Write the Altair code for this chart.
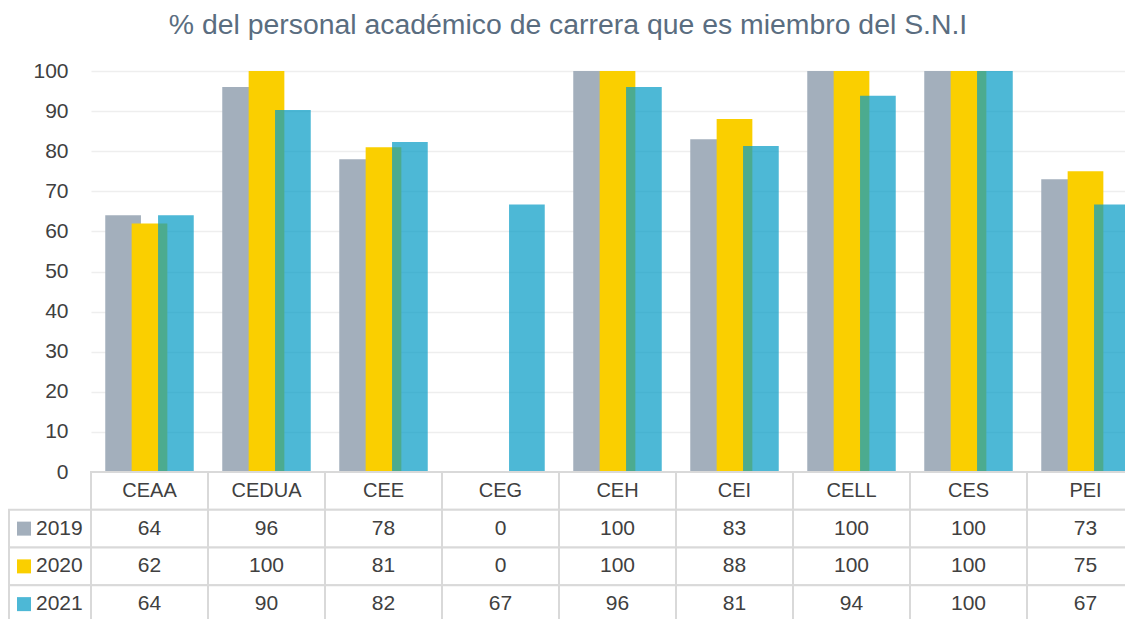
import altair as alt
import pandas as pd

categories = ["CEAA", "CEDUA", "CEE", "CEG", "CEH", "CEI", "CELL", "CES", "PEI"]
years = ["2019", "2020", "2021"]
v2019 = [64, 96, 78, 0, 100, 83, 100, 100, 73]
v2020 = [62, 100, 81, 0, 100, 88, 100, 100, 75]
v2021 = [64, 90.3, 82.3, 66.7, 96, 81.3, 93.8, 100, 66.7]
colors = ["#A3AFBC", "#FACF00", "#089CC6"]

FONT = "Liberation Sans, Arial"
TXT = "#404040"
LINE = "#D9D9D9"

PLOT_H = 401      # bar area height
ROW_H = 37.75     # table row height
X_RANGE = 1053    # 9 columns of 117 px

rows = []
for yr, vals in zip(years, [v2019, v2020, v2021]):
    for c, v in zip(categories, vals):
        rows.append({"cat": c, "year": yr, "row": yr, "value": v, "label": f"{v:.0f}"})
df = pd.DataFrame(rows)
header = pd.DataFrame({"cat": categories, "row": ["cat"] * len(categories), "label": categories})
table_df = pd.concat([header, df[["cat", "row", "label"]]], ignore_index=True)
years_df = pd.DataFrame({"row": years, "year": years})

xscale = alt.Scale(domain=categories, range=[0, X_RANGE], paddingInner=0, paddingOuter=0)
cscale = alt.Scale(domain=years, range=colors)
xenc = alt.X("cat:N", scale=xscale, axis=None, sort=categories)
opac = alt.condition("datum.year == '2021'", alt.value(0.72), alt.value(1.0))

bars = alt.Chart(df).mark_bar(width=35.7).encode(
    x=xenc,
    xOffset=alt.XOffset("year:N", scale=alt.Scale(domain=years, paddingInner=0, paddingOuter=0.716)),
    y=alt.Y("value:Q", stack=None,
            scale=alt.Scale(domain=[0, 100], nice=False, range=[PLOT_H, 0]),
            axis=alt.Axis(values=list(range(0, 101, 10)), domain=False, ticks=False,
                          labelFont=FONT, labelFontSize=21, labelColor=TXT, labelPadding=23,
                          gridColor="#EEEEEE", gridWidth=1.5, title=None)),
    color=alt.Color("year:N", scale=cscale, legend=None),
    opacity=opac,
)

yenc = alt.Y("row:N", axis=None,
             scale=alt.Scale(domain=["cat"] + years, paddingInner=0, paddingOuter=0,
                             range=[PLOT_H, PLOT_H + 4 * ROW_H]))

cell_boxes = alt.Chart(table_df).mark_rect(fill="white", stroke=LINE, strokeWidth=2).encode(
    x=xenc, y=yenc
)
head_text = alt.Chart(header).mark_text(font=FONT, fontSize=20, color=TXT, baseline="middle").encode(
    x=xenc, y=yenc, text="label:N"
)
val_text = alt.Chart(df).mark_text(font=FONT, fontSize=21, color=TXT, baseline="middle").encode(
    x=xenc, y=yenc, text="label:N"
)
left_boxes = alt.Chart(years_df).mark_rect(fill="white", stroke=LINE, strokeWidth=2).encode(
    x=alt.value(-82), x2=alt.value(0), y=yenc
)
squares = alt.Chart(years_df).mark_square(size=196).encode(
    x=alt.value(-67), y=yenc, color=alt.Color("year:N", scale=cscale, legend=None),
    opacity=opac,
)
row_labels = alt.Chart(years_df).mark_text(font=FONT, fontSize=21, color=TXT, align="left",
                                            baseline="middle").encode(
    x=alt.value(-55), y=yenc, text="year:N"
)

chart = alt.layer(bars, cell_boxes, head_text, val_text, left_boxes, squares, row_labels).resolve_scale(
    y="independent"
).properties(
    width=1034, height=548,
    autosize=alt.AutoSizeParams(type="none"),
    padding={"left": 83, "top": 63, "right": 0, "bottom": 0},
    title=alt.TitleParams("% del personal académico de carrera que es miembro del S.N.I",
                          font=FONT, fontSize=28.4, fontWeight="normal", color="#5A6D80",
                          anchor="middle", frame="group", dx=-40, offset=20),
).configure_view(strokeWidth=0)

chart.save("out.html", embed_options={"renderer": "svg", "actions": False})
